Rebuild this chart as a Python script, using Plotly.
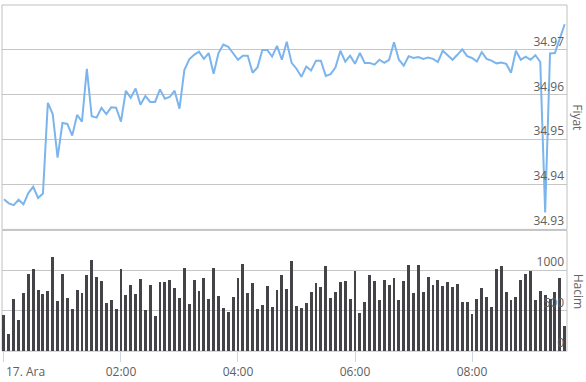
import pandas as pd
import plotly.graph_objects as go

# ---- data ----
start_time = "2024-12-17 00:00"
n_points = 116
times = pd.date_range(start_time, periods=n_points, freq="5min")

price = [
    34.9367, 34.9358, 34.9354, 34.9366, 34.9356, 34.9381, 34.9395, 34.9370, 34.9380, 34.9582,
    34.9557, 34.9460, 34.9537, 34.9535, 34.9509, 34.9555, 34.9540, 34.9658, 34.9552, 34.9549,
    34.9571, 34.9557, 34.9572, 34.9571, 34.9540, 34.9609, 34.9593, 34.9614, 34.9578, 34.9597,
    34.9584, 34.9584, 34.9612, 34.9591, 34.9595, 34.9609, 34.9569, 34.9655, 34.9679, 34.9689,
    34.9696, 34.9680, 34.9693, 34.9647, 34.9693, 34.9712, 34.9707, 34.9693, 34.9678, 34.9687,
    34.9687, 34.9649, 34.9661, 34.9700, 34.9700, 34.9685, 34.9709, 34.9678, 34.9718, 34.9671,
    34.9658, 34.9640, 34.9663, 34.9654, 34.9676, 34.9676, 34.9642, 34.9646, 34.9661, 34.9698,
    34.9674, 34.9687, 34.9669, 34.9693, 34.9671, 34.9671, 34.9667, 34.9678, 34.9671, 34.9678,
    34.9717, 34.9678, 34.9665, 34.9686, 34.9682, 34.9684, 34.9680, 34.9683, 34.9680, 34.9673,
    34.9698, 34.9688, 34.9678, 34.9689, 34.9701, 34.9686, 34.9682, 34.9674, 34.9695, 34.9680,
    34.9676, 34.9670, 34.9672, 34.9669, 34.9649, 34.9698, 34.9678, 34.9685, 34.9678, 34.9688,
    34.9673, 34.9338, 34.9692, 34.9693, 34.9726, 34.9757,
]

volume = [
    448, 203, 643, 387, 716, 948, 1013, 753, 704, 741,
    1168, 619, 948, 655, 521, 753, 716, 936, 1131, 912,
    863, 594, 631, 521, 1013, 692, 814, 704, 887, 509,
    814, 435, 851, 851, 875, 777, 655, 1026, 582, 875,
    741, 899, 643, 1026, 680, 529, 484, 667, 899, 1083,
    716, 838, 521, 570, 802, 545, 753, 936, 765, 1119,
    558, 529, 594, 729, 838, 790, 1058, 655, 729, 851,
    863, 643, 985, 472, 606, 936, 863, 631, 875, 814,
    899, 631, 863, 1070, 716, 1070, 729, 912, 814, 875,
    802, 851, 790, 826, 606, 606, 460, 643, 777, 667,
    545, 1009, 1058, 729, 631, 667, 875, 948, 985, 631,
    741, 692, 643, 729, 899, 309,
]

x_tick_vals = ["2024-12-17 00:00", "2024-12-17 02:00", "2024-12-17 04:00",
               "2024-12-17 06:00", "2024-12-17 08:00"]
x_tick_text = ["17. Ara", "02:00", "04:00", "06:00", "08:00"]
price_ticks = [34.93, 34.94, 34.95, 34.96, 34.97]
volume_ticks = [0, 500, 1000]
price_title = "Fiyat"
volume_title = "Hacim"

# ---- style ----
FONT = "Open Sans"
LABEL_COLOR = "#606060"
GRID = "#c6c6c6"
BORDER = "#c0c0c0"

x_range = [pd.Timestamp(start_time) - pd.Timedelta(minutes=2),
           pd.Timestamp(start_time) + pd.Timedelta(minutes=577.4)]

fig = go.Figure()
fig.add_trace(go.Bar(
    x=times, y=volume, xaxis="x", yaxis="y2",
    marker=dict(color="#434348", line=dict(width=0)),
    width=180000, showlegend=False, hoverinfo="skip",
))
fig.add_trace(go.Scatter(
    x=times, y=price, xaxis="x", yaxis="y", mode="lines",
    line=dict(color="#7cb5ec", width=2), showlegend=False, hoverinfo="skip",
))

P_BOT, V_TOP = 0.3514, 0.3486

fig.update_layout(
    width=586, height=382,
    margin=dict(l=2, r=19, t=5, b=27),
    paper_bgcolor="white", plot_bgcolor="white",
    font=dict(family=FONT, size=12, color=LABEL_COLOR),
    bargap=0,
    xaxis=dict(
        anchor="y2", range=x_range, type="date",
        tickvals=x_tick_vals, ticktext=[""] + x_tick_text[1:],
        ticks="outside", ticklen=10, tickcolor="#ccd6eb", tickwidth=1,
        showgrid=False, zeroline=False, showline=True, linecolor="#ccd6eb", linewidth=1,
        tickfont=dict(family=FONT, size=12, color=LABEL_COLOR),
    ),
    yaxis=dict(
        domain=[P_BOT, 1], range=[34.93, 34.98], side="right", anchor="x",
        tickvals=price_ticks, ticktext=[f"{v:.2f}" for v in price_ticks],
        ticklabelposition="inside top", ticks="",
        showgrid=True, gridcolor=GRID, gridwidth=1, zeroline=False, showline=False,
        tickfont=dict(family=FONT, size=12, color=LABEL_COLOR),
        ticklabelstandoff=0,
    ),
    yaxis2=dict(
        domain=[0, V_TOP], range=[0, 1500], side="right", anchor="x",
        tickvals=volume_ticks, ticktext=[str(v) for v in volume_ticks],
        ticklabelposition="inside top", ticks="",
        showgrid=True, gridcolor=GRID, gridwidth=1, zeroline=False, showline=False,
        tickfont=dict(family=FONT, size=12, color=LABEL_COLOR),
        ticklabelstandoff=0,
    ),
    shapes=[
        dict(type="rect", xref="paper", yref="paper", x0=0, x1=1, y0=P_BOT, y1=1,
             line=dict(color=BORDER, width=1), layer="above"),
        dict(type="rect", xref="paper", yref="paper", x0=0, x1=1, y0=0, y1=V_TOP,
             line=dict(color=BORDER, width=1), layer="below"),
    ],
    annotations=[
        dict(x=x_tick_vals[0], xref="x", y=-0.058, yref="paper", text=x_tick_text[0],
             showarrow=False, xanchor="left", yanchor="middle", xshift=0,
             font=dict(family=FONT, size=12, color=LABEL_COLOR)),
        dict(x=1, xref="paper", xshift=11, y=(P_BOT + 1) / 2, yref="paper", text=price_title,
             showarrow=False, textangle=90, xanchor="center", yanchor="middle",
             font=dict(family=FONT, size=12, color="#666666")),
        dict(x=1, xref="paper", xshift=11, y=V_TOP / 2, yref="paper", text=volume_title,
             showarrow=False, textangle=90, xanchor="center", yanchor="middle",
             font=dict(family=FONT, size=12, color="#666666")),
    ],
)

fig.write_html("out.html")
